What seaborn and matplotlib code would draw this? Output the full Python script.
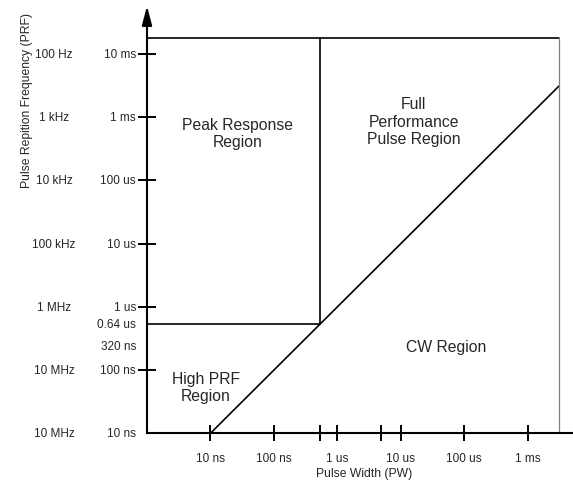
import matplotlib
matplotlib.use("Agg")
import matplotlib.pyplot as plt
import seaborn as sns
import pandas as pd

# ---- data ----
pw_ticks = [1e-8, 1e-7, 1e-6, 1e-5, 1e-4, 1e-3]
pw_tick_labels = ["10 ns", "100 ns", "1 us", "10 us", "100 us", "1 ms"]
pw_extra_ticks = [5.3e-7, 4.8e-6]

period_ticks = [1e-2, 1e-3, 1e-4, 1e-5, 1e-6, 1e-7]
period_label_pos = [1e-2, 1e-3, 1e-4, 1e-5, 1e-6, 5.3e-7, 2.4e-7, 1e-7, 1e-8]
period_labels = ["10 ms", "1 ms", "100 us", "10 us", "1 us", "0.64 us", "320 ns", "100 ns", "10 ns"]
freq_label_pos = [1e-2, 1e-3, 1e-4, 1e-5, 1e-6, 1e-7, 1e-8]
freq_labels = ["100 Hz", "1 kHz", "10 kHz", "100 kHz", "1 MHz", "10 MHz", "10 MHz"]

x_min, x_max = 1e-9, 5.19e-3
y_min, y_max = 1e-8, 3.59e-2
box_top = 1.8e-2
box_right = 3.12e-3
corner = 5.3e-7

# boundary segments
seg_pw = [x_min, box_right, corner, corner, x_min, corner, 1e-8, box_right]
seg_period = [box_top, box_top, box_top, corner, corner, corner, 1e-8, box_right]
seg_id = ["top", "top", "vert", "vert", "horiz", "horiz", "diag", "diag"]
right_pw = [box_right, box_right]
right_period = [y_min, box_top]

region_text = ["Peak Response\nRegion", "Full\nPerformance\nPulse Region", "High PRF\nRegion", "CW Region"]
region_pw = [2.7e-8, 1.61e-5, 8.4e-9, 5.14e-5]
region_period = [5.65e-4, 8.73e-4, 5.4e-8, 2.32e-7]

# ---- style ----
sns.set_theme(style="white")
plt.rcParams["font.family"] = ["Liberation Sans", "DejaVu Sans"]

fig = plt.figure(figsize=(5.73, 4.81), dpi=100)
ax = fig.add_axes([147 / 573, (481 - 434.3) / 481, (573 - 147) / 573, (434.3 - 20) / 481])

segs = pd.DataFrame({"pw": seg_pw, "period": seg_period, "seg": seg_id})
for name, g in segs.groupby("seg", sort=False):
    sns.lineplot(data=g, x="pw", y="period", ax=ax, color="black", lw=1.2,
                 estimator=None, sort=False, legend=False)
sns.lineplot(x=right_pw, y=right_period, ax=ax, color="#808080", lw=0.9,
             estimator=None, sort=False, legend=False)

ax.set_xscale("log")
ax.set_yscale("log")
ax.set_xlim(x_min, x_max)
ax.set_ylim(y_min, y_max)

for s in ["top", "right"]:
    ax.spines[s].set_visible(False)
for s in ["left", "bottom"]:
    ax.spines[s].set_linewidth(1.5)
    ax.spines[s].set_color("black")

ax.minorticks_off()
ax.set_xticks(pw_ticks + pw_extra_ticks, pw_tick_labels + [""] * len(pw_extra_ticks))
ax.set_yticks(period_ticks, [""] * len(period_ticks))
ax.tick_params(axis="x", direction="inout", length=11.5, width=1.4, color="black",
               labelsize=8.5, pad=7.5, bottom=True)
ax.tick_params(axis="y", direction="inout", length=13, width=1.4, color="black",
               left=True)

ytr = ax.get_yaxis_transform()
for v, t in zip(period_label_pos, period_labels):
    ax.text(-0.026, v, t, transform=ytr, ha="right", va="center", fontsize=8.5)
for v, t in zip(freq_label_pos, freq_labels):
    ax.text(-0.2183, v, t, transform=ytr, ha="center", va="center", fontsize=8.5)

for t, x, y in zip(region_text, region_pw, region_period):
    ax.text(x, y, t, ha="center", va="center", fontsize=11.3, linespacing=1.2)

ax.set_xlabel("Pulse Width (PW)", fontsize=8.7, va="center", ha="center")
ax.xaxis.set_label_coords(0.5106, -0.096)
ax.set_ylabel("Pulse Repition Frequency (PRF)", fontsize=8.7, va="center", ha="center")
ax.yaxis.set_label_coords(-0.2817, 0.8045)

ax.annotate("", xy=(0, 1 + 13 / 414.3), xytext=(0, 0.99), xycoords="axes fraction",
            textcoords="axes fraction",
            arrowprops=dict(arrowstyle="-|>,head_length=0.95,head_width=0.25",
                            color="black", lw=1.5, shrinkA=0, shrinkB=0),
            annotation_clip=False)

fig.savefig("out.png", dpi=100)
